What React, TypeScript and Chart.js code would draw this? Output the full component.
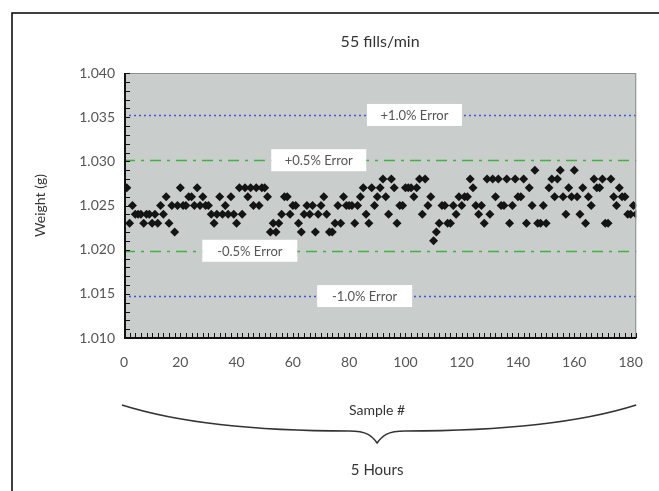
import React, { useEffect, useRef } from "react";
import { Chart, registerables } from "chart.js";

Chart.register(...registerables);

// Fill weights (g), one per sample, samples numbered from 1
const weights: number[] = [
  1.027, 1.023, 1.025, 1.024, 1.024, 1.024, 1.023, 1.024, 1.024, 1.023,
  1.024, 1.023, 1.025, 1.024, 1.026, 1.023, 1.025, 1.022, 1.025, 1.027,
  1.025, 1.025, 1.026, 1.026, 1.025, 1.027, 1.025, 1.026, 1.025, 1.025,
  1.024, 1.023, 1.024, 1.026, 1.024, 1.025, 1.024, 1.026, 1.024, 1.023,
  1.027, 1.024, 1.027, 1.026, 1.027, 1.025, 1.027, 1.025, 1.027, 1.027,
  1.026, 1.022, 1.023, 1.022, 1.023, 1.024, 1.026, 1.026, 1.024, 1.025,
  1.025, 1.023, 1.022, 1.024, 1.025, 1.024, 1.025, 1.022, 1.024, 1.025,
  1.026, 1.024, 1.022, 1.022, 1.023, 1.025, 1.023, 1.026, 1.025, 1.025,
  1.025, 1.023, 1.025, 1.026, 1.027, 1.024, 1.023, 1.027, 1.025, 1.026,
  1.027, 1.028, 1.026, 1.024, 1.028, 1.027, 1.023, 1.025, 1.025, 1.027,
  1.027, 1.027, 1.026, 1.027, 1.028, 1.024, 1.028, 1.025, 1.026, 1.021,
  1.022, 1.023, 1.025, 1.025, 1.023, 1.023, 1.025, 1.024, 1.026, 1.025,
  1.026, 1.026, 1.028, 1.027, 1.025, 1.024, 1.025, 1.023, 1.028, 1.024,
  1.028, 1.026, 1.028, 1.025, 1.025, 1.028, 1.023, 1.025, 1.028, 1.026,
  1.026, 1.028, 1.023, 1.027, 1.025, 1.029, 1.023, 1.023, 1.025, 1.023,
  1.027, 1.028, 1.026, 1.028, 1.029, 1.026, 1.024, 1.027, 1.026, 1.029,
  1.026, 1.024, 1.027, 1.023, 1.026, 1.025, 1.028, 1.027, 1.027, 1.028,
  1.023, 1.023, 1.028, 1.026, 1.025, 1.027, 1.026, 1.026, 1.024, 1.024,
  1.025, 1.024,
];

const xTicks: number[] = [0, 20, 40, 60, 80, 100, 120, 140, 160, 180];
const yTicks: number[] = [1.01, 1.015, 1.02, 1.025, 1.03, 1.035, 1.04];

// Error limit lines around the 1.025 g target
const refLevels: number[] = [1.03525, 1.030125, 1.019875, 1.01475];
const refLabels: string[] = ["+1.0% Error", "+0.5% Error", "-0.5% Error", "-1.0% Error"];
const refLabelSample: number[] = [103.2, 69.2, 44.7, 85.5];
const refKinds: string[] = ["dot", "dashdot", "dashdot", "dot"];

const titleText = "55 fills/min";
const yTitle = "Weight (g)";
const xTitle = "Sample #";
const spanText = "5 Hours";

const FONT = "Lato, 'Open Sans', sans-serif";

const decorPlugin = {
  id: "decor",
  beforeDatasetsDraw(chart: any) {
    const { ctx, chartArea: a, scales } = chart;
    const x = scales.x;
    const y = scales.y;
    ctx.save();
    ctx.fillStyle = "#c9cdcb";
    ctx.fillRect(a.left, a.top, a.right - a.left, a.bottom - a.top);
    refLevels.forEach((lv, i) => {
      const py = Math.round(y.getPixelForValue(lv)) + 0.5;
      ctx.beginPath();
      if (refKinds[i] === "dot") {
        ctx.strokeStyle = "#4455d6";
        ctx.setLineDash([2, 3]);
      } else {
        ctx.strokeStyle = "#45b045";
        ctx.setLineDash([11, 6, 3, 6]);
      }
      ctx.lineWidth = 1.3;
      ctx.moveTo(a.left, py);
      ctx.lineTo(a.right, py);
      ctx.stroke();
    });
    ctx.setLineDash([]);
    ctx.font = `13px ${FONT}`;
    ctx.textAlign = "center";
    ctx.textBaseline = "middle";
    refLevels.forEach((lv, i) => {
      const py = y.getPixelForValue(lv);
      const px = x.getPixelForValue(refLabelSample[i]);
      const w = 95;
      const h = 22;
      ctx.fillStyle = "#ffffff";
      ctx.fillRect(px - w / 2, py - h / 2, w, h);
      ctx.fillStyle = "#555";
      ctx.fillText(refLabels[i], px, py + 1);
    });
    ctx.restore();
  },
  afterDraw(chart: any) {
    const { ctx, chartArea: a, scales } = chart;
    const x = scales.x;
    const y = scales.y;
    ctx.save();
    ctx.strokeStyle = "#8c918f";
    ctx.lineWidth = 1;
    ctx.strokeRect(a.left + 0.5, a.top + 0.5, a.right - a.left - 1, a.bottom - a.top - 1);
    ctx.strokeStyle = "#111";
    ctx.lineWidth = 2;
    ctx.beginPath();
    ctx.moveTo(a.left + 1, a.top);
    ctx.lineTo(a.left + 1, a.bottom);
    ctx.lineTo(a.right, a.bottom);
    ctx.stroke();
    ctx.lineWidth = 1;
    ctx.beginPath();
    for (let k = 0; k <= 30; k++) {
      const v = 1.01 + k * 0.001;
      const py = Math.round(y.getPixelForValue(v)) + 0.5;
      ctx.moveTo(a.left, py);
      ctx.lineTo(a.left + 6, py);
    }
    for (let k = 0; k <= 91; k++) {
      const px = Math.round(x.getPixelForValue(k * 2)) + 0.5;
      ctx.moveTo(px, a.bottom);
      ctx.lineTo(px, a.bottom - 5);
    }
    ctx.stroke();

    ctx.strokeStyle = "#000";
    ctx.lineWidth = 1.5;
    ctx.beginPath();
    ctx.moveTo(12, 491);
    ctx.lineTo(12, 13);
    ctx.lineTo(659, 13);
    ctx.stroke();

    const cx = (a.left + a.right) / 2;
    ctx.fillStyle = "#333";
    ctx.textAlign = "center";
    ctx.textBaseline = "middle";
    ctx.font = `16px ${FONT}`;
    ctx.fillText(titleText, cx, 42);
    ctx.font = `14px ${FONT}`;
    ctx.fillText(xTitle, cx - 3, 410);
    ctx.font = `15px ${FONT}`;
    ctx.fillText(spanText, cx - 3, 470);
    ctx.save();
    ctx.translate(40, (a.top + a.bottom) / 2);
    ctx.rotate(-Math.PI / 2);
    ctx.font = `14px ${FONT}`;
    ctx.fillText(yTitle, 0, 0);
    ctx.restore();

    const L = a.left - 2;
    const R = a.right;
    const M = cx - 3;
    ctx.strokeStyle = "#333";
    ctx.lineWidth = 1.5;
    ctx.beginPath();
    ctx.moveTo(L, 405);
    ctx.bezierCurveTo(L + 60, 424, L + 140, 431, M - 28, 431);
    ctx.bezierCurveTo(M - 10, 431, M - 5, 436, M, 443);
    ctx.bezierCurveTo(M + 5, 436, M + 10, 431, M + 28, 431);
    ctx.bezierCurveTo(R - 140, 431, R - 60, 424, R, 405);
    ctx.stroke();
    ctx.restore();
  },
};

export default function App() {
  const ref = useRef<HTMLCanvasElement | null>(null);

  useEffect(() => {
    const canvas = ref.current;
    if (!canvas) return;
    const points = weights.map((w, i) => ({ x: i + 1, y: w }));
    const chart = new Chart(canvas, {
      type: "scatter",
      data: {
        datasets: [
          {
            data: points,
            pointStyle: "rectRot",
            pointRadius: 4.5,
            pointBackgroundColor: "#141414",
            pointBorderColor: "#141414",
            pointBorderWidth: 0,
            showLine: false,
          },
        ],
      },
      plugins: [decorPlugin],
      options: {
        responsive: false,
        maintainAspectRatio: false,
        devicePixelRatio: 1,
        animation: false,
        events: [],
        layout: { padding: { top: 73, right: 21, left: 0, bottom: 0 } },
        plugins: {
          legend: { display: false },
          tooltip: { enabled: false },
          title: { display: false },
        },
        scales: {
          x: {
            type: "linear",
            min: 0,
            max: 182,
            grid: { display: false, drawTicks: false },
            border: { display: false },
            afterBuildTicks: (s: any) => {
              s.ticks = xTicks.map((v) => ({ value: v }));
            },
            afterFit: (s: any) => {
              s.height = 153;
            },
            ticks: {
              padding: 16,
              color: "#555",
              font: { family: FONT, size: 14 },
              maxRotation: 0,
              autoSkip: false,
            },
          },
          y: {
            type: "linear",
            min: 1.01,
            max: 1.04,
            grid: { display: false, drawTicks: false },
            border: { display: false },
            afterBuildTicks: (s: any) => {
              s.ticks = yTicks.map((v) => ({ value: v }));
            },
            afterFit: (s: any) => {
              s.width = 124;
            },
            ticks: {
              padding: 9,
              color: "#555",
              font: { family: FONT, size: 14 },
              callback: (v: any) => Number(v).toFixed(3),
            },
          },
        },
      },
    });
    return () => chart.destroy();
  }, []);

  return (
    <div style={{ position: "fixed", left: 0, top: 0, width: 659, height: 491, background: "#fff" }}>
      <canvas ref={ref} width={659} height={491} style={{ width: 659, height: 491, display: "block" }} />
    </div>
  );
}
